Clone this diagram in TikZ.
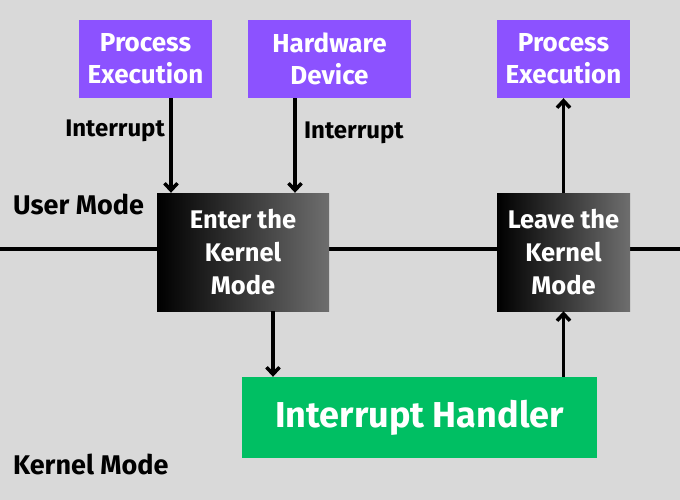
\documentclass[tikz,border=0pt]{standalone}
\usepackage{fontspec}
\setmainfont{Fira Sans}
\usetikzlibrary{arrows.meta}
\definecolor{bg}{HTML}{D9D9D9}
\definecolor{purp}{HTML}{8C52FF}
\definecolor{grn}{HTML}{00BF63}
\definecolor{gry}{HTML}{6E6E6E}
\tikzset{
  pbox/.style={fill=purp, text=white, inner sep=0pt, align=center, font=\fontsize{26}{32}\selectfont\bfseries},
  kbox/.style={left color=black, right color=gry, draw=none, text=white, inner sep=0pt, align=center, font=\fontsize{25.5}{33}\selectfont\bfseries},
  hbox/.style={fill=grn, text=white, inner sep=0pt, font=\fontsize{36}{40}\selectfont\bfseries},
  lbl/.style={inner sep=0pt, font=\fontsize{24}{28}\selectfont\bfseries},
  mlbl/.style={inner sep=0pt, anchor=west, font=\fontsize{27}{30}\selectfont\bfseries},
  arr/.style={line width=3.5pt, -{Straight Barb[length=7pt,width=13pt,line width=3.5pt]}},
  hline/.style={line width=3.5pt}
}
\begin{document}
\begin{tikzpicture}[x=1pt,y=1pt]
\fill[bg] (0,0) rectangle (680,-500);
\useasboundingbox (0,0) rectangle (680,-500);
\coordinate (L) at (0,-249);
\coordinate (R) at (680,-249);
\draw[hline] (L) -- (R);
\node[pbox, minimum width=133pt, minimum height=78pt] (pe1) at (145.5,-59) {Process\\Execution};
\node[pbox, minimum width=163pt, minimum height=78pt] (hw) at (329.5,-59) {Hardware\\Device};
\node[pbox, minimum width=133pt, minimum height=78pt] (pe2) at (563.5,-59) {Process\\Execution};
\node[kbox, minimum width=172pt, minimum height=118pt] (enter) at (243,-252) {Enter the\\Kernel\\Mode};
\node[kbox, minimum width=133pt, minimum height=118pt] (leave) at (563.5,-252) {Leave the\\Kernel\\Mode};
\node[hbox, minimum width=355pt, minimum height=81pt] (ih) at (419.5,-417.5) {Interrupt Handler};
\node[lbl, anchor=east] (i1) at (165,-131) {Interrupt};
\node[lbl, anchor=west] (i2) at (304,-133) {Interrupt};
\node[mlbl] (um) at (13,-204) {User Mode};
\node[mlbl] (km) at (13,-464) {Kernel Mode};
\draw[arr] ([xshift=25.5pt]pe1.south) -- ([xshift=25.5pt]pe1.south |- enter.north);
\draw[arr] ([xshift=-34.5pt]hw.south) -- ([xshift=-34.5pt]hw.south |- enter.north);
\draw[arr] ([xshift=30pt]enter.south) -- ([xshift=30pt]enter.south |- ih.north);
\draw[arr] (leave.south |- ih.north) -- (leave.south);
\draw[arr] (leave.north) -- (pe2.south);
\end{tikzpicture}
\end{document}
